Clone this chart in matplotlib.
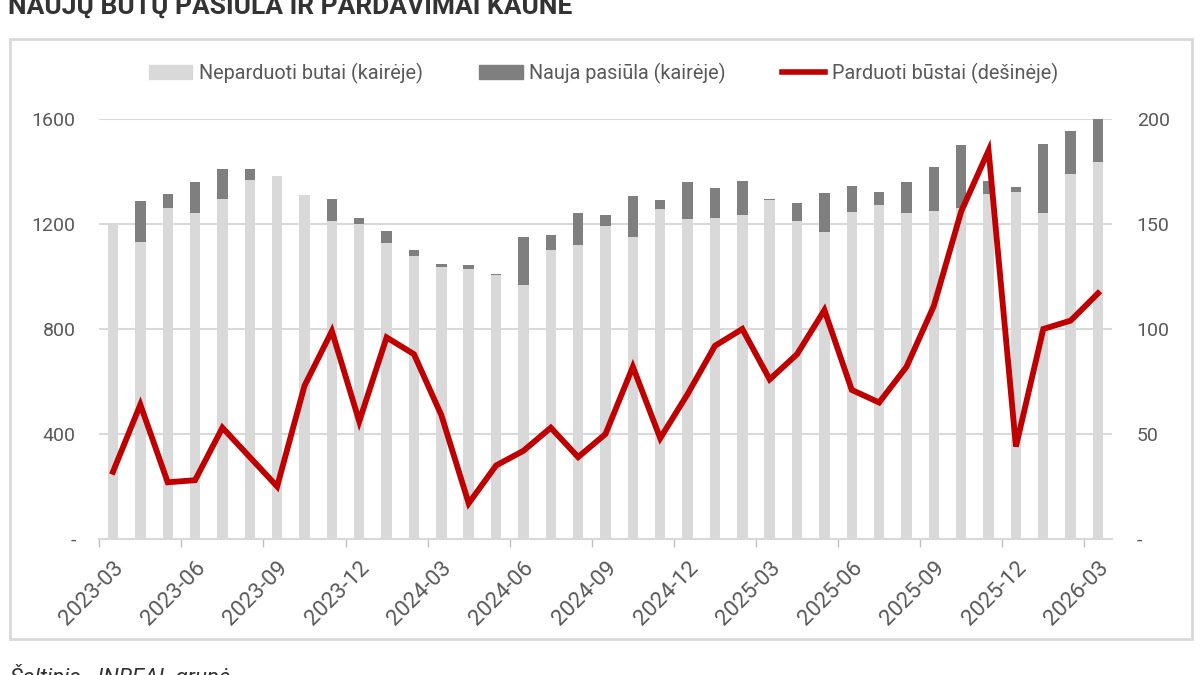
import numpy as np
import matplotlib
matplotlib.use("Agg")
import matplotlib.pyplot as plt
from matplotlib.patches import Rectangle
from matplotlib.lines import Line2D
from matplotlib.patches import Patch

plt.rcParams['font.family'] = ['Roboto', 'DejaVu Sans']

# monthly data 2023-03 .. 2026-03
months = ['2023-03', '2023-04', '2023-05', '2023-06', '2023-07', '2023-08', '2023-09',
          '2023-10', '2023-11', '2023-12', '2024-01', '2024-02', '2024-03', '2024-04',
          '2024-05', '2024-06', '2024-07', '2024-08', '2024-09', '2024-10', '2024-11',
          '2024-12', '2025-01', '2025-02', '2025-03', '2025-04', '2025-05', '2025-06',
          '2025-07', '2025-08', '2025-09', '2025-10', '2025-11', '2025-12', '2026-01',
          '2026-02', '2026-03']

unsold = [1196, 1133, 1260, 1242, 1297, 1369, 1381, 1309, 1210, 1200, 1129, 1079, 1037,
          1029, 1006, 966, 1101, 1120, 1192, 1152, 1256, 1220, 1224, 1233, 1293, 1210,
          1170, 1247, 1274, 1242, 1251, 1260, 1314, 1323, 1242, 1392, 1436]

new_supply = [0, 155, 54, 118, 113, 41, 0, 0, 87, 24, 44, 22, 11,
              15, 5, 186, 59, 122, 41, 153, 37, 140, 113, 132, 4, 69,
              148, 99, 49, 118, 168, 240, 50, 18, 263, 162, 164]

sold = [32, 64, 27, 28, 53, 39, 25, 73, 99, 56, 96, 88, 59,
        17, 35, 42, 53, 39, 50, 82, 48, 69, 92, 100, 76, 88,
        109, 71, 65, 82, 111, 156, 185, 44, 100, 104, 117]

left_ticks = [0, 400, 800, 1200, 1600]
right_ticks = [0, 50, 100, 150, 200]

light = '#d9d9d9'
dark = '#7f7f7f'
red = '#c00000'
txt = '#595959'

x = np.arange(len(months))

fig = plt.figure(figsize=(12, 6.75), dpi=100)

# outer frame around the chart
frame = Rectangle((10 / 1200, 1 - 639 / 675), 1182 / 1200, 600 / 675,
                  transform=fig.transFigure, facecolor='none',
                  edgecolor='#d9d9d9', linewidth=2)
fig.patches.append(frame)

ax = fig.add_axes([99.3 / 1200, 1 - 539 / 675, 1012.4 / 1200, 420 / 675])
ax.set_facecolor('none')
ax.bar(x, unsold, width=0.38, color=light, zorder=2)
ax.bar(x, new_supply, width=0.38, bottom=unsold, color=dark, zorder=2)

ax.set_xlim(-0.5, len(months) - 0.5)
ax.set_ylim(0, 1600)
ax.set_yticks(left_ticks)
ax.set_yticklabels(['-' if v == 0 else str(v) for v in left_ticks])
ax.grid(axis='y', color='#d9d9d9', linewidth=1.5, zorder=0)
ax.set_axisbelow(True)

for s in ['top', 'left', 'right']:
    ax.spines[s].set_visible(False)
ax.spines['bottom'].set_color('#d9d9d9')
ax.spines['bottom'].set_linewidth(1.5)

ax.set_xticks(x[::3])
ax.set_xticklabels(months[::3], rotation=45, ha='right', rotation_mode='anchor')
ax.set_xticks(np.arange(-0.5, len(months) - 1, 3), minor=True)
ax.tick_params(axis='x', which='major', length=0, pad=13, labelsize=16, labelcolor=txt)
ax.tick_params(axis='x', which='minor', length=6, color='#bfbfbf', width=1)
ax.tick_params(axis='y', length=0, pad=17, labelsize=14, labelcolor=txt)

ax2 = ax.twinx()
ax2.plot(x, sold, color=red, linewidth=4.2, solid_joinstyle='miter', zorder=5)
ax2.set_ylim(0, 200)
ax2.set_yticks(right_ticks)
ax2.set_yticklabels(['-' if v == 0 else str(v) for v in right_ticks])
ax2.tick_params(axis='y', length=0, pad=18, labelsize=14, labelcolor=txt)
for s in ['top', 'left', 'right', 'bottom']:
    ax2.spines[s].set_visible(False)

handles = [Patch(color=light), Patch(color=dark), Line2D([0], [0], color=red, linewidth=4)]
labels = ['Neparduoti butai (kairėje)', 'Nauja pasiūla (kairėje)', 'Parduoti būstai (dešinėje)']
fig.legend(handles, labels, loc='center', bbox_to_anchor=(0.503, 1 - 73 / 675), ncol=3,
           frameon=False, fontsize=14.3, labelcolor=txt, columnspacing=2.8,
           handlelength=2.2, handleheight=0.7, handletextpad=0.35)

fig.text(8 / 1200, 1 - 14 / 675, 'NAUJŲ BŪTŲ PASIŪLA IR PARDAVIMAI KAUNE',
         fontsize=19, fontweight='bold', color='#333333', va='baseline')
fig.text(10 / 1200, 1 - 684 / 675, 'Šaltinis - INREAL grupė',
         fontsize=16, style='italic', color='#333333', va='baseline')

fig.savefig('out.png', dpi=100)
